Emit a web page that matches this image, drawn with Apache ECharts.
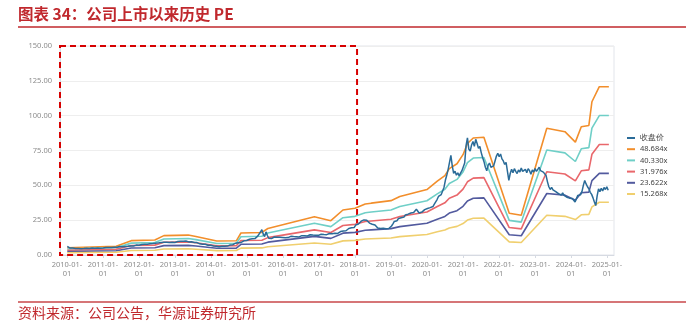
<!DOCTYPE html>
<html><head><meta charset="utf-8">
<script src="https://cdn.jsdelivr.net/npm/echarts@6/dist/echarts.min.js"></script>
<style>html,body{margin:0;padding:0;background:#fff}#c{width:686px;height:321px}</style>
</head><body><div id="c"></div>
<script>
const legendNames = ['收盘价', '48.684x', '40.330x', '31.976x', '23.622x', '15.268x'];
const yTicks = [0, 25, 50, 75, 100, 125, 150];
const xYears = [2010, 2011, 2012, 2013, 2014, 2015, 2016, 2017, 2018, 2019, 2020, 2021, 2022, 2023, 2024, 2025];

// closing price, sampled every 14 days from 2010-01-04
const priceStart = [2010, 0, 4];
const priceStepDays = 14;
const priceValues = [
  // 2010
  6.2, 5.3, 5.0, 4.8, 5.1, 4.9, 4.7, 4.9, 4.6, 4.8, 4.5, 4.7, 4.6, 4.9, 4.8, 4.6, 4.7, 4.9, 5.0, 4.8, 4.9, 5.1, 5.0, 4.8, 4.9, 5.0,
  // 2011
  5.0, 5.2, 5.4, 5.1, 5.3, 5.6, 5.4, 5.7, 5.5, 5.8, 5.6, 5.9, 6.1, 5.8, 6.0, 6.3, 6.1, 6.4, 6.2, 6.6, 6.4, 6.8, 6.5, 6.9, 7.1, 6.8,
  // 2012
  7.0, 7.3, 7.6, 7.2, 7.8, 8.1, 7.7, 8.3, 8.0, 8.6, 8.2, 8.8, 8.5, 9.0, 8.7, 9.2, 8.9, 9.4, 9.1, 9.6, 9.2, 9.5, 9.0, 9.4, 9.1, 9.3,
  // 2013
  9.0, 9.4, 9.7, 9.3, 9.8, 9.5, 9.9, 9.6, 10.0, 9.7, 9.4, 9.8, 9.5, 9.2, 9.0, 8.6, 8.9, 8.4, 8.0, 8.3, 7.8, 7.5, 7.7, 7.2, 7.0, 7.3,
  // 2014
  7.0, 6.7, 6.4, 6.1, 6.3, 5.9, 6.0, 5.8, 6.2, 5.9, 6.3, 6.6, 6.4, 6.9, 7.2, 7.6, 7.4, 8.0, 8.5, 8.2, 8.8, 9.3, 9.0, 9.6, 10.2, 10.0,
  // 2015
  10.4, 10.9, 11.3, 10.8, 11.6, 12.2, 11.8, 12.8, 13.5, 14.8, 16.5, 18.2, 15.0, 13.2, 16.6, 14.0, 12.0, 12.6, 11.8, 12.4, 12.9, 12.3, 12.8, 13.3, 12.7, 13.1, 12.6,
  // 2016
  12.9, 12.4, 12.0, 12.5, 12.9, 13.4, 12.8, 13.2, 13.7, 13.1, 13.5, 13.0, 13.4, 13.9, 13.3, 13.8, 14.2, 13.6, 14.0, 14.5, 13.9, 14.3, 14.8, 14.2, 14.6, 14.1,
  // 2017
  14.4, 14.9, 14.3, 14.7, 15.2, 14.6, 15.0, 15.4, 14.8, 15.3, 15.0, 15.6, 16.0, 15.5, 16.2, 16.8, 16.3, 17.2, 17.8, 17.4, 18.3, 19.0, 18.5, 19.6, 20.3, 19.8,
  // 2018
  21.5, 22.8, 22.2, 23.6, 24.3, 23.8, 25.2, 24.6, 25.0, 23.7, 22.9, 23.4, 22.1, 21.0, 21.6, 20.2, 19.4, 19.9, 19.0, 18.6, 19.2, 18.4, 18.9, 18.2, 19.0, 19.6,
  // 2019
  20.8, 22.4, 24.1, 25.3, 24.6, 26.2, 27.5, 26.8, 28.0, 27.2, 28.7, 28.1, 29.3, 28.6, 30.1, 31.2, 30.5, 31.6, 32.8, 31.9, 30.2, 29.6, 30.8, 31.7, 32.6, 31.8,
  // 2020
  33.4, 32.5, 34.0, 33.2, 34.8, 36.5, 37.6, 39.8, 42.0, 40.6, 43.4, 44.8, 48.5, 53.6, 57.2, 61.3, 66.5, 71.5, 64.0, 58.5, 60.2, 57.3, 59.0, 56.8, 58.7, 60.5,
  // 2021
  61.5, 66.0, 78.5, 84.0, 76.0, 74.5, 79.0, 81.5, 78.0, 83.0, 80.0, 76.5, 78.0, 73.5, 70.0, 67.0, 63.0, 60.5, 64.5, 66.0, 63.0, 61.8, 64.0, 67.5, 71.0, 73.0,
  // 2022
  70.5, 72.5, 69.0, 67.5, 65.0, 66.5, 60.0, 53.5, 58.5, 61.5, 59.0, 62.0, 60.0, 58.5, 61.0, 59.5, 62.5, 60.0, 58.8, 61.5, 59.0, 62.0, 60.5, 58.0, 61.0, 59.5,
  // 2023
  62.0, 60.0, 61.5, 63.0, 60.5, 61.8, 59.5, 60.5, 57.0, 52.5, 49.0, 47.0, 48.5, 46.8, 48.0, 45.5, 46.5, 44.0, 45.2, 43.0, 44.5, 42.8, 43.8, 41.5, 42.5, 40.8,
  // 2024
  42.0, 40.5, 39.2, 38.0, 40.5, 42.8, 44.0, 43.2, 45.5, 50.0, 53.5, 51.0, 49.0, 47.5, 45.0, 43.5, 41.0, 38.0, 35.5, 42.5, 47.5, 45.5, 47.8, 46.0, 48.5, 47.0,
  // 2025
  49.0, 46.5
];

// PE band lines (kink points)
const bandDates = ['2010-01-04','2011-05-15','2011-10-15','2012-06-10','2012-09-10','2013-05-15','2013-08-01','2014-03-01','2014-09-15','2014-11-01',
  '2015-06-01','2015-08-01','2016-11-15','2017-05-01','2017-09-01','2018-01-01','2018-04-15','2018-06-15','2019-01-01','2019-04-01',
  '2020-01-01','2020-04-15','2020-07-01','2020-08-15','2020-11-01','2021-01-01','2021-02-15','2021-04-15','2021-08-01','2022-04-15',
  '2022-08-15','2023-05-01','2023-11-01','2024-02-15','2024-04-15','2024-07-01','2024-08-01','2024-10-15','2025-01-20'];
const band48684 = [5.2,6.3,10.3,10.8,13.9,14.3,13.3,10.0,10.2,15.8,16.2,19.0,27.5,24.6,32.3,33.5,36.6,37.2,39.0,42.0,47.0,53.0,57.0,62.0,65.5,72.0,80.0,84.0,84.5,30.0,28.5,91.0,88.5,81.0,92.0,93.0,110.0,120.8,120.8];
const band40330 = [4.31,5.22,8.53,8.95,11.51,11.85,11.02,8.28,8.45,13.09,13.42,15.74,22.78,20.38,26.76,27.75,30.32,30.82,32.31,34.79,38.93,43.91,47.22,51.36,54.26,59.64,66.27,69.59,70.00,24.85,23.61,75.38,73.31,67.10,76.21,77.04,91.12,100.07,100.07];
const band31976 = [3.42,4.14,6.77,7.09,9.13,9.39,8.74,6.57,6.70,10.38,10.64,12.48,18.06,16.16,21.21,22.00,24.04,24.43,25.62,27.59,30.87,34.81,37.44,40.72,43.02,47.29,52.54,55.17,55.50,19.70,18.72,59.77,58.13,53.20,60.43,61.08,72.25,79.34,79.34];
const band23622 = [2.52,3.06,5.00,5.24,6.74,6.94,6.45,4.85,4.95,7.67,7.86,9.22,13.34,11.94,15.67,16.25,17.76,18.05,18.92,20.38,22.80,25.72,27.66,30.08,31.78,34.93,38.82,40.76,41.00,14.56,13.83,44.15,42.94,39.30,44.64,45.12,53.37,58.61,58.61];
const band15268 = [1.63,1.98,3.23,3.39,4.36,4.48,4.17,3.14,3.20,4.95,5.08,5.96,8.62,7.71,10.13,10.51,11.48,11.67,12.23,13.17,14.74,16.62,17.88,19.44,20.54,22.58,25.09,26.34,26.50,9.41,8.94,28.54,27.75,25.40,28.85,29.16,34.50,37.88,37.88];

const colors = ['#2a6b98', '#f28e2b', '#6fcfc7', '#e9676b', '#525a9e', '#f0cf6e'];

const pricePts = priceValues.map((v, i) => [+new Date(priceStart[0], priceStart[1], priceStart[2] + i * priceStepDays), v]);
const toPts = arr => arr.map((v, i) => [bandDates[i], v]);

const chart = echarts.init(document.getElementById('c'), null, {renderer: 'canvas'});
const axisMin = +new Date(2009, 9, 22);
const axisMax = +new Date(2025, 2, 13);
const boxRight = +new Date(2018, 0, 22);
const lab = {color: '#8c8c8c', fontSize: 7.5, fontFamily: 'Noto Sans'};

function band(name, data, color) {
  return {name, type: 'line', data: toPts(data), showSymbol: false, symbol: 'none',
    lineStyle: {width: 1.6, color}, itemStyle: {color}, z: 2};
}

chart.setOption({
  animation: false,
  color: colors,
  grid: {left: 60, right: 72, top: 46, bottom: 66, show: true, borderColor: '#e2e5eb', borderWidth: 1},
  legend: {
    orient: 'vertical', left: 622, top: 128, icon: 'rect', itemWidth: 8, itemHeight: 2, itemGap: 1.2,
    data: legendNames,
    textStyle: {color: '#444', fontSize: 7.5, lineHeight: 10, fontFamily: 'Noto Sans'}
  },
  xAxis: {
    type: 'time', min: axisMin, max: axisMax,
    minInterval: 365 * 86400000, maxInterval: 366 * 86400000,
    axisLine: {lineStyle: {color: '#d6dae2'}},
    axisTick: {show: true, length: 3, lineStyle: {color: '#d6dae2'}},
    splitLine: {show: false},
    axisLabel: Object.assign({}, lab, {
      lineHeight: 9, margin: 5, hideOverlap: false, showMinLabel: false, showMaxLabel: false,
      formatter: function (v) {
        const d = new Date(v);
        if (d.getMonth() === 0 && d.getDate() === 1 && xYears.indexOf(d.getFullYear()) >= 0) return d.getFullYear() + '-01-\n01';
        return '';
      }
    })
  },
  yAxis: {
    type: 'value', min: yTicks[0], max: yTicks[yTicks.length - 1], interval: 25,
    axisLine: {show: true, lineStyle: {color: '#d6dae2'}},
    axisTick: {show: false},
    splitLine: {lineStyle: {color: '#eeeeee'}},
    axisLabel: Object.assign({}, lab, {margin: 8, formatter: v => v.toFixed(2)})
  },
  series: [
    band(legendNames[1], band48684, colors[1]),
    band(legendNames[2], band40330, colors[2]),
    band(legendNames[3], band31976, colors[3]),
    band(legendNames[4], band23622, colors[4]),
    band(legendNames[5], band15268, colors[5]),
    {
      name: legendNames[0], type: 'line', data: pricePts, showSymbol: false, symbol: 'none', clip: false, z: 3,
      lineStyle: {width: 1.5, color: colors[0]}, itemStyle: {color: colors[0]},
      markArea: {
        silent: true,
        itemStyle: {color: 'rgba(0,0,0,0)', borderColor: '#d60000', borderWidth: 2, borderType: [6, 4]},
        data: [[{xAxis: axisMin, yAxis: 150}, {xAxis: boxRight, yAxis: 0}]]
      }
    }
  ],
  graphic: [
    {type: 'text', left: 18, top: 6, style: {text: '图表 34：公司上市以来历史 PE', fill: '#c0282d', font: 'bold 15.5px "Noto Sans CJK SC"'}},
    {type: 'line', shape: {x1: 18, y1: 27, x2: 686, y2: 27}, style: {stroke: '#c0282d', lineWidth: 1.5}},
    {type: 'line', shape: {x1: 18, y1: 302, x2: 686, y2: 302}, style: {stroke: '#c9474a', lineWidth: 1.3}},
    {type: 'text', left: 18, top: 306, style: {text: '资料来源：公司公告，华源证券研究所', fill: '#c0282d', font: '14px "Noto Sans CJK SC"'}}
  ]
});
</script>
</body></html>
